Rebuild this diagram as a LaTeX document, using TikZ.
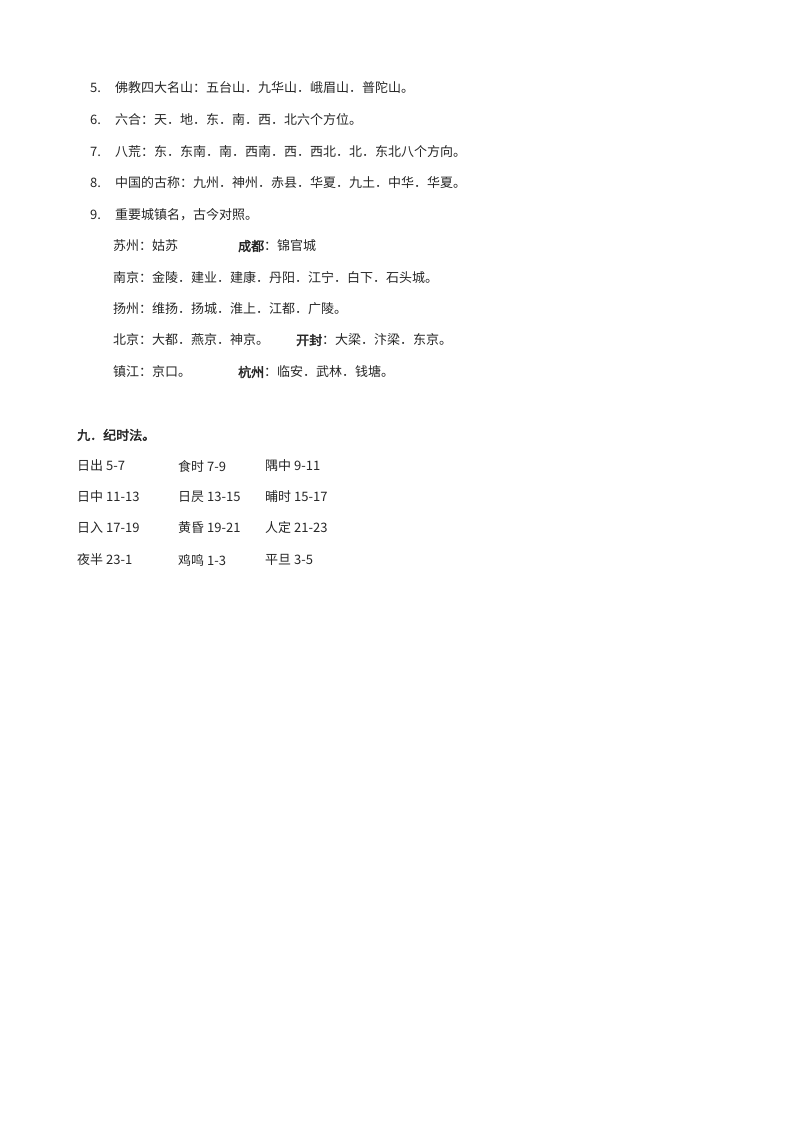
\documentclass[tikz,border=0pt]{standalone}
\usepackage{fontspec}
\newfontfamily\cjk[AutoFakeBold=2.5]{Noto Sans CJK SC}
\begin{document}
\begin{tikzpicture}[x=1pt,y=-1pt,
  t/.style={anchor=west,inner sep=0pt,font=\cjk\fontsize{13}{15}\selectfont,text=black!85},
  b/.style={t,font=\cjk\bfseries\fontsize{13}{15}\selectfont}]
\useasboundingbox (0,0) rectangle (800,1132);
\node[t] (n5) at (90,88) {5.};
\node[t] (l5) at (115,88) {佛教四大名山：五台山．九华山．峨眉山．普陀山。};
\node[t] (n6) at (90,120) {6.};
\node[t] (l6) at (115,120) {六合：天．地．东．南．西．北六个方位。};
\node[t] (n7) at (90,152) {7.};
\node[t] (l7) at (115,152) {八荒：东．东南．南．西南．西．西北．北．东北八个方向。};
\node[t] (n8) at (90,183) {8.};
\node[t] (l8) at (115,183) {中国的古称：九州．神州．赤县．华夏．九土．中华．华夏。};
\node[t] (n9) at (90,215) {9.};
\node[t] (l9) at (115,215) {重要城镇名，古今对照。};
\node[t] (s1) at (113,246) {苏州：姑苏};
\node[t] (s1b) at (238,246) {{\bfseries 成都}：锦官城};
\node[t] (s2) at (113,278) {南京：金陵．建业．建康．丹阳．江宁．白下．石头城。};
\node[t] (s3) at (113,309) {扬州：维扬．扬城．淮上．江都．广陵。};
\node[t] (s4) at (113,340) {北京：大都．燕京．神京。};
\node[t] (s4b) at (296,340) {{\bfseries 开封}：大梁．汴梁．东京。};
\node[t] (s5) at (113,372) {镇江：京口。};
\node[t] (s5b) at (238,372) {{\bfseries 杭州}：临安．武林．钱塘。};
\node[b] (h) at (77,435) {九．纪时法。};
\node[t] (a1) at (77,466) {日出 5-7};
\node[t] (a2) at (178,466) {食时 7-9};
\node[t] (a3) at (265,466) {隅中 9-11};
\node[t] (b1) at (77,497) {日中 11-13};
\node[t] (b2) at (178,497) {日昃 13-15};
\node[t] (b3) at (265,497) {晡时 15-17};
\node[t] (c1) at (77,528) {日入 17-19};
\node[t] (c2) at (178,528) {黄昏 19-21};
\node[t] (c3) at (265,528) {人定 21-23};
\node[t] (d1) at (77,560) {夜半 23-1};
\node[t] (d2) at (178,560) {鸡鸣 1-3};
\node[t] (d3) at (265,560) {平旦 3-5};
\end{tikzpicture}
\end{document}
